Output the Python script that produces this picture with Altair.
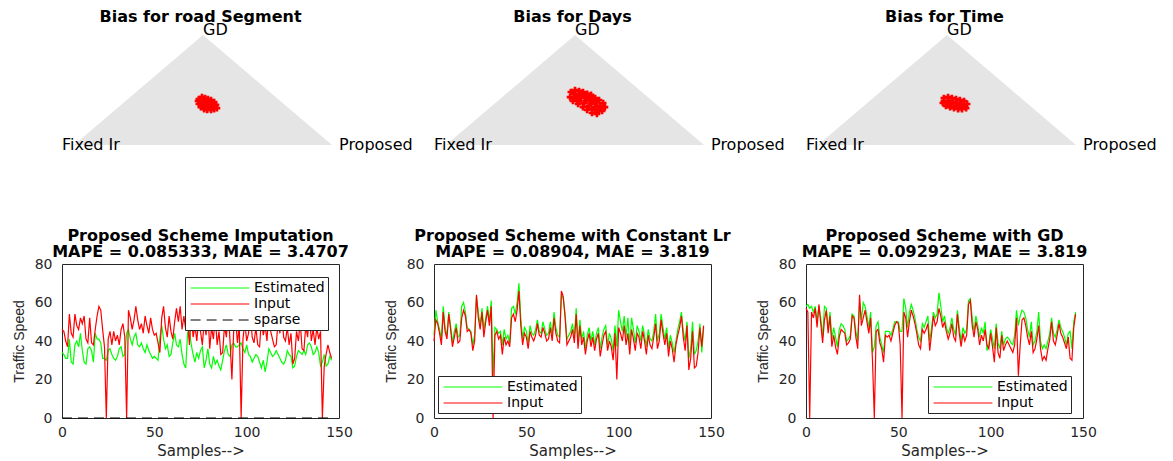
import altair as alt
import pandas as pd

FONT = "DejaVu Sans"
INK = "#262626"
GREEN = "#00ff00"
RED = "#ff0000"

# ---------------- ternary "bias" panels ----------------
tri_titles = ["Bias for road Segment", "Bias for Days", "Bias for Time"]
tri_x = [0.0, 0.5, 1.0]
tri_y = [0.0, 1.0, 0.0]
tri_labels = ["Fixed Ir", "GD", "Proposed"]

seg_x = [0.484, 0.496, 0.508, 0.519, 0.531, 0.543, 0.550, 0.554, 0.543, 0.531, 0.516, 0.504,
         0.492, 0.484, 0.481, 0.500, 0.516, 0.531, 0.508, 0.523, 0.539, 0.496, 0.519]
seg_y = [0.418, 0.436, 0.427, 0.418, 0.409, 0.391, 0.364, 0.336, 0.327, 0.318, 0.318, 0.327,
         0.345, 0.373, 0.400, 0.391, 0.382, 0.373, 0.355, 0.345, 0.355, 0.373, 0.400]

days_x = [0.484, 0.500, 0.516, 0.531, 0.547, 0.562, 0.578, 0.593, 0.609, 0.616, 0.605, 0.585,
          0.566, 0.547, 0.531, 0.512, 0.492, 0.481, 0.504, 0.523, 0.543, 0.562, 0.581, 0.597,
          0.574, 0.554, 0.535, 0.508, 0.566, 0.593, 0.496,
          0.519, 0.539, 0.558, 0.578, 0.496, 0.516, 0.535, 0.554, 0.578, 0.605, 0.585, 0.550,
          0.527, 0.570]
days_y = [0.482, 0.500, 0.491, 0.482, 0.464, 0.455, 0.427, 0.409, 0.382, 0.345, 0.309, 0.282,
          0.291, 0.318, 0.345, 0.373, 0.400, 0.436, 0.445, 0.427, 0.400, 0.373, 0.345, 0.355,
          0.400, 0.427, 0.455, 0.409, 0.327, 0.318, 0.464,
          0.464, 0.436, 0.409, 0.382, 0.427, 0.400, 0.382, 0.355, 0.318, 0.336, 0.391, 0.445,
          0.473, 0.427]

time_x = [0.488, 0.504, 0.519, 0.535, 0.550, 0.566, 0.578, 0.574, 0.558, 0.543, 0.527, 0.512,
          0.496, 0.484, 0.488, 0.508, 0.523, 0.539, 0.554, 0.562, 0.516, 0.500, 0.535, 0.550]
time_y = [0.427, 0.436, 0.427, 0.418, 0.409, 0.400, 0.373, 0.336, 0.327, 0.327, 0.336, 0.345,
          0.355, 0.382, 0.400, 0.400, 0.391, 0.382, 0.373, 0.355, 0.373, 0.382, 0.355, 0.345]

# ---------------- imputation panels ----------------
p1_est = [34, 33, 31, 31, 41, 29, 28, 38, 40, 37,
          44, 35, 29, 28, 36, 37, 35, 29, 44, 41,
          41, 39, 31, 31, 30, 35, 36, 33, 31, 30,
          32, 36, 37, 32, 33, 44, 46, 41, 38, 42,
          44, 38, 37, 39, 36, 34, 38, 35, 33, 31,
          32, 31, 30, 42, 48, 41, 36, 38, 32, 33,
          39, 44, 38, 37, 41, 33, 28, 26, 44, 46,
          38, 33, 29, 34, 31, 35, 37, 26, 30, 36,
          28, 26, 32, 28, 30, 27, 25, 30, 35, 38,
          33, 32, 38, 39, 37, 37, 38, 39, 36, 34,
          38, 33, 32, 29, 31, 33, 32, 29, 26, 30,
          24, 29, 36, 34, 32, 33, 35, 33, 31, 29,
          28, 30, 35, 33, 32, 26, 27, 32, 35, 34,
          33, 35, 33, 38, 39, 37, 33, 34, 37, 34,
          27, 29, 33, 27, 28, 32, 30]
p1_inp = [46, 45, 40, 37, 54, 44, 42, 54, 48, 46,
          52, 49, 53, 41, 39, 52, 39, 38, 46, 53,
          58, 56, 46, 37, 0, 41, 45, 38, 45, 40,
          43, 38, 46, 49, 42, 0, 56, 52, 46, 51,
          58, 51, 46, 49, 44, 53, 48, 44, 52, 46,
          43, 44, 39, 34, 52, 58, 47, 42, 53, 45,
          41, 50, 57, 50, 58, 46, 53, 46, 50, 38,
          55, 42, 48, 40, 52, 45, 38, 50, 43, 55,
          36, 47, 41, 53, 38, 45, 33, 34, 48, 42,
          56, 40, 20, 46, 52, 39, 48, 0, 41, 50,
          40, 44, 55, 42, 39, 47, 38, 37, 52, 43,
          48, 40, 56, 45, 41, 37, 38, 50, 44, 56,
          42, 40, 47, 38, 44, 28, 31, 45, 40, 50,
          36, 35, 48, 42, 55, 40, 46, 38, 47, 41,
          45, 0, 27, 33, 38, 34, 31]
sparse_x = [0, 146]
sparse_y = [0, 0]

p2_est = [43, 56, 50, 46, 41, 58, 47, 43, 55, 48,
          39, 45, 49, 42, 43, 58, 60, 55, 47, 46,
          45, 38, 43, 63, 55, 48, 57, 46, 52, 58,
          50, 61, 22, 47, 46, 44, 45, 38, 46, 41,
          43, 39, 57, 58, 54, 60, 70, 52, 41, 47,
          45, 39, 48, 44, 43, 46, 51, 45, 44, 50,
          46, 43, 44, 50, 43, 55, 47, 43, 42, 64,
          62, 54, 41, 43, 45, 49, 42, 57, 39, 51,
          41, 45, 36, 43, 47, 40, 45, 38, 44, 47,
          36, 42, 46, 48, 38, 44, 41, 35, 48, 37,
          56, 50, 45, 53, 42, 52, 38, 52, 46, 39,
          48, 45, 40, 48, 43, 37, 46, 41, 40, 45,
          54, 40, 44, 54, 47, 41, 47, 36, 43, 39,
          34, 40, 46, 50, 55, 45, 40, 50, 31, 36,
          50, 33, 35, 40, 49, 34, 47]
p2_inp = [40, 51, 49, 44, 38, 55, 45, 41, 54, 46,
          37, 42, 47, 39, 40, 52, 56, 53, 45, 46,
          44, 35, 40, 64, 52, 46, 55, 42, 50, 56,
          48, 58, 0, 43, 45, 41, 43, 33, 42, 38,
          40, 37, 52, 54, 50, 56, 66, 48, 38, 44,
          42, 36, 45, 42, 40, 43, 49, 43, 42, 47,
          44, 40, 41, 47, 40, 52, 44, 40, 39, 66,
          63, 52, 38, 40, 42, 46, 39, 54, 36, 48,
          38, 42, 33, 40, 44, 37, 42, 35, 41, 44,
          32, 38, 43, 45, 35, 40, 37, 30, 44, 20,
          47, 44, 40, 48, 38, 44, 33, 46, 41, 35,
          44, 42, 36, 45, 40, 33, 43, 38, 36, 42,
          49, 36, 40, 51, 44, 38, 44, 32, 40, 36,
          29, 38, 43, 47, 53, 42, 35, 48, 25, 31,
          45, 26, 27, 34, 47, 37, 48]

p3_est = [58, 59, 57, 58, 55, 58, 50, 58, 52, 42,
          58, 57, 46, 55, 41, 47, 42, 37, 46, 49,
          48, 46, 40, 41, 43, 54, 53, 45, 40, 60,
          51, 60, 58, 53, 47, 55, 34, 37, 48, 50,
          42, 38, 34, 45, 45, 45, 43, 46, 50, 50,
          50, 45, 45, 62, 57, 47, 55, 59, 56, 52,
          46, 42, 40, 49, 47, 50, 53, 40, 47, 55,
          52, 54, 65, 58, 50, 53, 47, 44, 47, 52,
          46, 43, 56, 47, 40, 47, 44, 46, 61, 62,
          52, 45, 53, 48, 42, 47, 44, 50, 35, 38,
          46, 41, 36, 49, 39, 36, 45, 38, 41, 42,
          41, 39, 38, 43, 56, 48, 53, 56, 55, 52,
          46, 42, 50, 38, 40, 45, 55, 40, 36, 38,
          36, 40, 44, 52, 44, 42, 46, 51, 47, 45,
          42, 38, 44, 45, 36, 50, 55]
p3_inp = [57, 55, 0, 55, 52, 57, 47, 59, 49, 39,
          51, 56, 44, 53, 37, 43, 37, 33, 42, 46,
          45, 44, 38, 39, 41, 53, 52, 42, 36, 64,
          48, 52, 56, 50, 44, 52, 30, 0, 45, 46,
          39, 36, 29, 43, 42, 43, 40, 44, 48, 50,
          49, 38, 0, 55, 52, 42, 50, 56, 53, 49,
          44, 38, 36, 46, 44, 46, 49, 35, 44, 53,
          48, 50, 57, 53, 47, 50, 45, 41, 44, 49,
          42, 40, 54, 44, 37, 44, 40, 43, 59, 61,
          48, 42, 50, 46, 38, 43, 40, 46, 38, 36,
          44, 37, 29, 47, 34, 31, 43, 35, 38, 40,
          38, 36, 34, 38, 52, 22, 38, 51, 52, 48,
          42, 38, 45, 34, 36, 41, 48, 36, 30, 32,
          30, 36, 41, 50, 40, 38, 43, 49, 44, 42,
          39, 36, 42, 31, 30, 47, 54]

line_titles = [
    ["Proposed Scheme Imputation", "MAPE = 0.085333, MAE = 3.4707"],
    ["Proposed Scheme with Constant Lr", "MAPE = 0.08904, MAE = 3.819"],
    ["Proposed Scheme with GD", "MAPE = 0.092923, MAE = 3.819"],
]
x_ticks = [0, 50, 100, 150]
y_ticks = [0, 20, 40, 60, 80]

PW, TH, LH = 277, 110, 154
X_DOM = [-0.0465, 1.0271]


def tri_panel(title, px, py):
    base = pd.DataFrame({"x": tri_x, "y": tri_y, "label": tri_labels})
    xs = alt.X("x:Q", scale=alt.Scale(domain=X_DOM, nice=False, zero=False), axis=None)
    ys = alt.Y("y:Q", scale=alt.Scale(domain=[0, 1], nice=False), axis=None)
    area = alt.Chart(base).mark_area(color="#e5e5e5", interpolate="linear").encode(x=xs, y=ys)
    pts = alt.Chart(pd.DataFrame({"x": px, "y": py})).mark_point(
        shape="cross", filled=True, size=45, color=RED, opacity=1
    ).encode(x=xs, y=ys)

    def lab(name, dx, dy):
        return alt.Chart(base).transform_filter(alt.datum.label == name).mark_text(
            align="left", baseline="alphabetic", dx=dx, dy=dy,
            font=FONT, fontSize=16, color="black"
        ).encode(x=xs, y=ys, text="label:N")

    return alt.layer(area, pts, lab("GD", 0, 0), lab("Fixed Ir", -12, 5), lab("Proposed", 7, 5)).properties(
        width=PW, height=TH,
        title=alt.TitleParams(text=title, font=FONT, fontSize=16, fontWeight="bold", color="black",
                              anchor="middle", frame="group", offset=-3),
        view=alt.ViewBackground(stroke="transparent"),
    )


def line_panel(title, est, inp, lx, ly, with_sparse=False):
    recs = [{"x": i, "v": v, "s": "Estimated"} for i, v in enumerate(est)]
    recs += [{"x": i, "v": v, "s": "Input"} for i, v in enumerate(inp)]
    dom = ["Estimated", "Input"]
    rng = [GREEN, RED]
    dash = [[1, 0], [1, 0]]
    if with_sparse:
        recs += [{"x": x, "v": v, "s": "sparse"} for x, v in zip(sparse_x, sparse_y)]
        dom.append("sparse")
        rng.append("#000000")
        dash.append([10, 6])
    df = pd.DataFrame(recs)
    leg = alt.Legend(title=None, orient="none", legendX=lx, legendY=ly,
                     symbolType="M-4.2,0H4.2", symbolSize=196, symbolStrokeWidth=1.2,
                     symbolOffset=24, labelOffset=26,
                     labelFont=FONT, labelFontSize=14, labelColor="black",
                     padding=3, rowPadding=1, fillColor="white", strokeColor=INK)
    return alt.Chart(df).mark_line(strokeWidth=1.2).encode(
        x=alt.X("x:Q", scale=alt.Scale(domain=[0, 150], nice=False),
                axis=alt.Axis(values=x_ticks, title="Samples-->", titleFont=FONT, titleFontSize=15,
                              titleFontWeight="normal", titleColor=INK, labelPadding=7, titlePadding=4,
                              labelFlush=False)),
        y=alt.Y("v:Q", scale=alt.Scale(domain=[0, 80], nice=False),
                axis=alt.Axis(values=y_ticks, title="Traffic Speed", titleFont="Liberation Sans",
                              titleFontSize=14, titleFontWeight="normal", titleColor=INK,
                              labelPadding=10, titlePadding=8, labelFlush=False)),
        color=alt.Color("s:N", scale=alt.Scale(domain=dom, range=rng), legend=leg),
        strokeDash=alt.StrokeDash("s:N", scale=alt.Scale(domain=dom, range=dash), legend=leg),
    ).properties(
        width=PW, height=LH,
        title=alt.TitleParams(text=title, font=FONT, fontSize=16, fontWeight="bold", color="black",
                              anchor="middle", frame="group", offset=-3, lineHeight=16),
    )


t1 = tri_panel(tri_titles[0], seg_x, seg_y)
t2 = tri_panel(tri_titles[1], days_x, days_y)
t3 = tri_panel(tri_titles[2], time_x, time_y)
l1 = line_panel(line_titles[0], p1_est, p1_inp, 123, 13, with_sparse=True)
l2 = line_panel(line_titles[1], p2_est, p2_inp, 4, 112)
l3 = line_panel(line_titles[2], p3_est, p3_inp, 122, 112)

chart = alt.concat(
    t1, t2, t3, l1, l2, l3, columns=3,
    spacing={"row": 119, "column": 95}, bounds="flush", align="each",
).resolve_scale(
    x="independent", y="independent", color="independent", strokeDash="independent"
).resolve_legend(
    color="independent", strokeDash="independent"
).properties(
    padding={"left": 3, "top": 0, "right": 0, "bottom": 0},
).configure(
    background="white"
).configure_view(
    stroke=INK, strokeWidth=1
).configure_axis(
    grid=False, domain=False, ticks=False, labelFont=FONT, labelFontSize=14, labelColor=INK
)

chart.save("out.html", embed_options={"renderer": "svg", "actions": False})
